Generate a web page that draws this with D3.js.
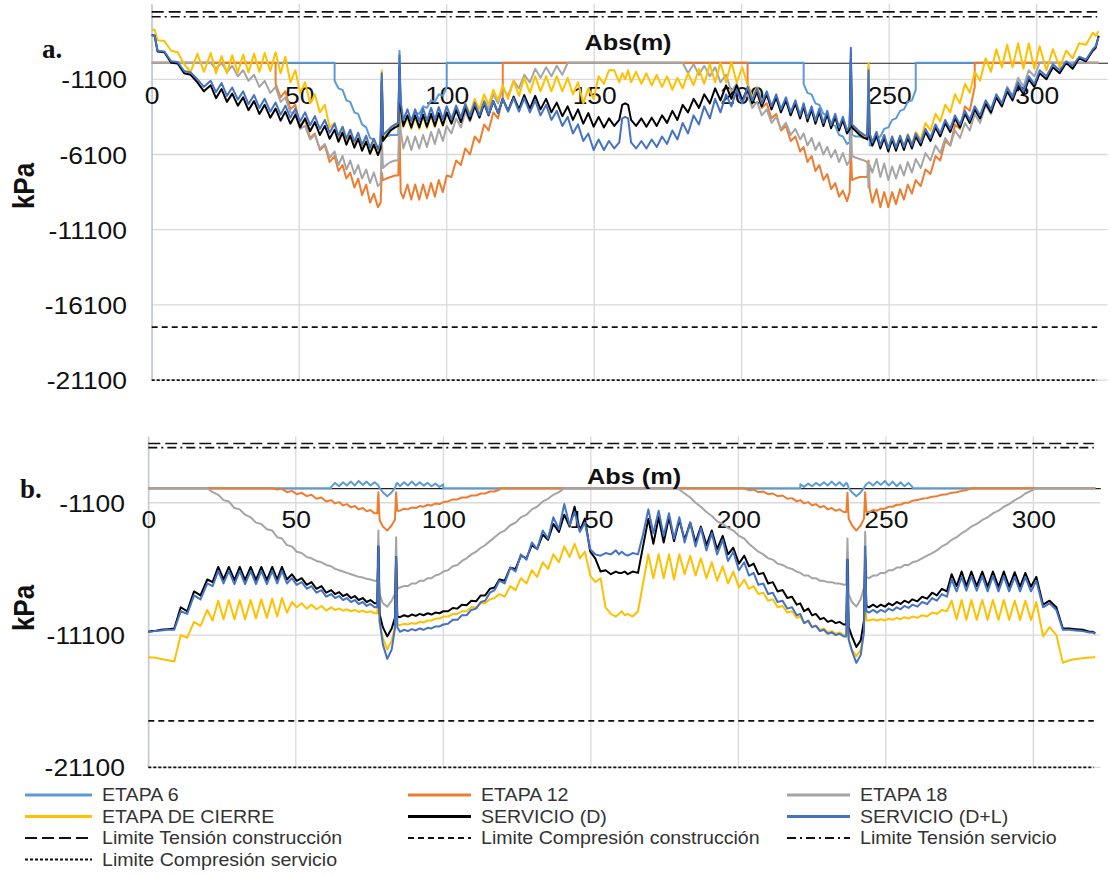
<!DOCTYPE html>
<html>
<head>
<meta charset="utf-8">
<script src="https://cdn.jsdelivr.net/npm/d3@7"></script>
<style>
  body { margin: 0; background: #fff; }
  svg { display: block; }
</style>
</head>
<body>
<svg id="chart" width="1110" height="876"></svg>
<script>
// Abscissa of every computed section along the deck (m)
const abs = [
  0,1,2,4.3,6.6,8.8,11,13.2,15.5,17.7,20,
  21.8,23.7,25.5,27.3,29.2,31,32.8,34.7,36.5,38.3,40.2,42,
  42,43.7,45.3,47,48.7,50.3,52,53.7,55.3,57,58.7,60.3,62,
  62,63.3,64.7,66,67.3,68.7,70,71.3,72.7,74,75.3,76.7,
  77.6,78,78.4,79.5,81,82.5,83.6,84,84.4,
  85.3,86.7,88,89.3,90.7,92,93.3,94.7,96,97.3,98.7,100,
  100,101.6,103.2,104.8,106.3,107.9,109.5,111.1,112.7,114.2,115.8,117.4,119,
  119,120.8,122.7,124.5,126.3,128.2,130,131.8,133.7,135.5,137.3,139.2,141,
  142.8,144.5,146.3,148,149.8,151.5,153.3,155,156.8,158.5,159.5,
  160.5,
  161.5,162.5,164.2,166,167.7,169.5,171.2,173,174.7,176.5,178.2,
  180,181.8,183.7,185.5,187.3,189.2,191,192.8,194.7,196.5,198.3,200.2,202,
  202,203.6,205.2,206.8,208.5,210.1,211.7,213.3,215,216.6,218.2,219.8,221,
  221,222.3,223.7,225,226.3,227.7,229,230.3,231.7,233,234.3,235.7,
  236.6,237,237.4,238.5,240,241.5,242.6,243,243.4,
  244.3,245.7,247,248.3,249.7,251,252.3,253.7,255,256.3,257.7,259,
  259,260.7,262.3,264,265.7,267.3,269,270.7,272.3,274,275.7,277.3,279,
  279,280.8,282.7,284.5,286.3,288.2,290,291.8,293.7,295.5,297.3,299.2,
  301,303.3,305.5,307.8,310,312.2,314.4,316.7,319,320,321
];

// ---------- a. stresses (kPa) ----------
const aEtapa6 = [
  0,0,0,0,0,0,0,0,0,0,0,
  0,0,0,0,0,0,0,0,0,0,0,0,
  0,0,0,0,0,0,0,0,0,0,0,0,0,
  -1200,-1700,-1800,-2500,-2600,-3300,-3400,-4100,-4300,-5000,-5100,-5700,
  -5500,-700,-5000,-4900,-4800,-4800,-4800,800,-3800,
  -4100,-3700,-3800,-3300,-3400,-2900,-3000,-2500,-2600,-2100,-2200,-1600,
  0,0,0,0,0,0,0,0,0,0,0,0,0,
  0,0,0,0,0,0,0,0,0,0,0,0,0,
  0,0,0,0,0,0,0,0,0,0,0,
  0,
  0,0,0,0,0,0,0,0,0,0,0,
  0,0,0,0,0,0,0,0,0,0,0,0,0,
  0,0,0,0,0,0,0,0,0,0,0,0,0,
  -1400,-2000,-2100,-2700,-2800,-3400,-3500,-4100,-4200,-4800,-4900,-5400,
  -5300,700,-4800,-4900,-4900,-5000,-5000,-300,-5500,
  -5500,-5000,-4900,-4400,-4300,-3800,-3700,-3200,-3100,-2600,-2500,-1800,
  0,0,0,0,0,0,0,0,0,0,0,0,0,
  0,0,0,0,0,0,0,0,0,0,0,0,
  0,0,0,0,0,0,0,0,0,0,0
];
const aEtapa12 = [
  0,0,0,0,0,0,0,0,0,0,0,
  0,0,0,0,0,0,0,0,0,0,0,0,
  -1400,-2300,-1900,-3100,-2800,-4200,-3800,-5000,-4700,-5800,-5500,-6600,-6200,
  -6200,-7200,-6800,-7700,-7300,-8300,-7700,-8800,-8100,-9300,-8700,-9600,
  -9300,-7300,-7800,-7700,-7600,-7500,-7500,-4000,-8600,
  -9000,-8100,-9100,-8100,-9100,-8100,-9000,-8000,-8900,-7800,-8600,-7500,
  -7500,-7600,-6500,-6800,-5700,-6100,-4900,-5300,-4100,-4500,-3300,-3700,-2300,
  0,0,0,0,0,0,0,0,0,0,0,0,0,
  0,0,0,0,0,0,0,0,0,0,0,
  0,
  0,0,0,0,0,0,0,0,0,0,0,
  0,0,0,0,0,0,0,0,0,0,0,0,0,
  -1400,-2300,-2000,-3000,-2700,-3700,-3400,-4500,-4200,-5200,-4900,-5900,-5600,
  -5600,-6600,-6200,-7200,-6800,-7800,-7400,-8400,-8000,-8900,-8500,-9200,
  -8600,-5600,-7800,-7700,-7600,-7600,-7600,-6500,-8400,
  -9300,-8400,-9600,-8600,-9600,-8600,-9400,-8400,-9100,-8100,-8700,-7800,
  -7800,-8200,-7100,-7400,-6200,-6500,-5200,-5500,-4100,-4400,-2900,-3200,-1600,
  0,0,0,0,0,0,0,0,0,0,0,0,
  0,0,0,0,0,0,0,0,0,0,0
];
const aEtapa18 = [
  0,0,0,0,0,0,0,0,0,0,0,
  -400,0,-600,-200,-900,-500,-1200,-800,-1600,-1200,-2000,-1600,
  -1600,-2600,-2300,-3300,-3300,-4400,-4200,-5100,-4800,-5700,-5400,-6300,-5900,
  -5900,-6800,-6200,-7100,-6500,-7400,-6800,-7700,-7100,-8000,-7300,-8200,
  -8000,-5000,-7000,-6800,-6600,-6500,-6500,-2700,-4500,
  -5700,-4900,-5800,-4900,-5700,-4800,-5600,-4600,-5400,-4400,-5200,-4200,
  -4200,-4700,-3700,-4300,-3300,-3900,-2900,-3500,-2500,-3100,-2100,-2700,-1700,
  -1700,-2200,-1200,-1700,-800,-1300,-400,-1000,-300,-900,-200,-800,0,
  0,0,0,0,0,0,0,0,0,0,0,
  0,
  0,0,0,0,0,0,0,0,0,0,0,
  0,-700,-100,-800,-200,-900,-300,-1300,-800,-1900,-1400,-2500,-2100,
  -2100,-3000,-2600,-3500,-3100,-4000,-3600,-4400,-4000,-4800,-4400,-5100,-4700,
  -4700,-5500,-5000,-5800,-5300,-6100,-5600,-6300,-5800,-6600,-6000,-6800,
  -6500,-3800,-6200,-6300,-6400,-6500,-6600,-8300,-6800,
  -7300,-6400,-7600,-6700,-7800,-6900,-7700,-6800,-7500,-6600,-7300,-6400,
  -6400,-7000,-6000,-6500,-5500,-6000,-5000,-5500,-4500,-5000,-4000,-4500,-3400,
  -3400,-4000,-2800,-3400,-2200,-2800,-1600,-2200,-1000,-1600,-500,-900,
  0,0,0,0,0,0,0,0,0,0,0
];
const aCierre = [
  2200,2200,1500,1450,800,700,-100,-600,600,-600,650,
  -700,450,-700,500,-650,550,-650,600,-600,650,-550,700,
  700,-700,400,-1300,-500,-2000,-1300,-2700,-2100,-3300,-2800,-4300,-4000,
  -4000,-5100,-4500,-5300,-4700,-5500,-4900,-5700,-5100,-5900,-5300,-6000,
  -5600,-500,-5100,-4800,-4400,-4200,-4100,-2000,-3100,
  -4300,-3600,-4400,-3600,-4400,-3550,-4350,-3500,-4300,-3400,-4200,-3300,
  -3300,-4000,-3000,-3700,-2700,-3400,-2400,-3100,-2100,-2800,-1800,-2500,-1500,
  -1500,-2400,-1200,-2200,-1000,-2000,-900,-1900,-900,-1900,-900,-1900,-1000,
  -2100,-1300,-2700,-1700,-2400,-900,-1400,-500,-500,-1300,-700,
  -1100,
  -500,-1300,-600,-1400,-700,-1500,-800,-1600,-900,-1800,-1000,
  -1700,-700,-1500,-400,-1400,-100,-1300,0,-1300,50,-1300,-300,-1500,
  -1500,-2300,-1600,-2600,-2000,-2900,-2300,-3200,-2500,-3400,-2700,-3600,-2900,
  -2900,-3800,-3100,-3950,-3250,-4100,-3400,-4300,-3600,-4450,-3800,-4600,
  -4300,-1000,-4300,-4400,-4700,-4900,-5000,0,-4700,
  -5300,-4600,-5500,-4800,-5700,-4900,-5650,-4850,-5550,-4750,-5400,-4600,
  -4600,-5100,-4000,-4500,-3400,-3900,-2800,-3300,-2100,-2700,-1400,-2000,-600,
  -600,-1200,300,-600,900,-300,1200,-300,1300,-400,1300,-400,
  1100,-500,900,-300,800,300,1300,1200,2000,1800,2100
];
const aServD = [
  1850,1800,750,700,0,-50,-700,-800,-1300,-1900,-1500,
  -2350,-1750,-2600,-2050,-2850,-2300,-3150,-2550,-3400,-2800,-3650,-3050,
  -3050,-3850,-3250,-4050,-3450,-4300,-3700,-4550,-3950,-4800,-4200,-5050,-4450,
  -4450,-5250,-4650,-5450,-4850,-5650,-5050,-5850,-5250,-6050,-5450,-6150,
  -5700,-1200,-5200,-4900,-4500,-4300,-4200,-300,-3000,
  -4200,-3500,-4300,-3500,-4300,-3450,-4250,-3400,-4200,-3350,-4150,-3300,
  -3300,-4050,-3150,-3950,-3000,-3800,-2850,-3650,-2700,-3500,-2550,-3350,-2400,
  -2400,-3200,-2250,-3100,-2150,-3050,-2200,-3100,-2400,-3300,-2650,-3550,-2900,
  -3800,-3100,-4050,-3350,-4250,-3600,-4300,-3700,-4200,-3800,-2800,
  -2700,
  -2800,-3800,-4200,-3700,-4250,-3650,-4200,-3500,-4000,-3200,-3800,
  -2800,-3300,-2400,-3000,-2100,-2700,-1700,-2500,-1500,-2400,-1500,-2500,-1700,
  -1700,-2700,-1900,-2900,-2100,-3100,-2300,-3300,-2500,-3500,-2700,-3700,-2900,
  -2900,-3900,-3100,-4050,-3250,-4200,-3400,-4350,-3600,-4500,-3800,-4700,
  -4400,200,-4300,-4500,-4800,-5000,-5100,-2500,-4900,
  -5500,-4800,-5700,-5000,-5900,-5100,-5850,-5050,-5800,-5000,-5700,-4900,
  -4900,-5500,-4600,-5200,-4300,-4900,-4000,-4600,-3700,-4300,-3400,-4000,-3100,
  -3100,-3700,-2700,-3300,-2300,-2900,-1900,-2500,-1500,-2100,-1100,-1600,
  -700,-1100,-300,-700,0,-400,300,100,800,1000,1800
];
const aServDL = [
  1850,1800,800,750,100,50,-550,-650,-1100,-1600,-1200,
  -1950,-1350,-2200,-1650,-2450,-1900,-2750,-2150,-3000,-2400,-3250,-2650,
  -2650,-3450,-2850,-3650,-3050,-3900,-3300,-4150,-3550,-4400,-3800,-4650,-4050,
  -4050,-4850,-4250,-5050,-4450,-5250,-4650,-5450,-4850,-5650,-5050,-5750,
  -5300,-700,-4800,-4600,-4300,-4100,-4000,500,-2600,
  -3800,-3100,-3900,-3100,-3900,-3050,-3850,-3000,-3800,-2950,-3750,-2900,
  -2900,-3750,-2850,-3650,-2750,-3550,-2650,-3500,-2600,-3450,-2550,-3350,-2400,
  -2400,-3250,-2350,-3250,-2350,-3300,-2500,-3500,-2800,-3800,-3200,-4200,-3600,
  -4700,-4100,-5200,-4700,-5800,-5100,-5800,-5200,-5700,-5300,-3700,
  -3600,
  -3700,-5300,-5700,-5200,-5700,-5100,-5600,-4900,-5400,-4500,-5100,
  -4000,-4700,-3500,-4100,-2900,-3700,-2400,-3300,-2100,-2900,-1800,-2700,-1600,
  -1600,-2500,-1700,-2700,-1900,-2900,-2100,-3100,-2300,-3300,-2500,-3500,-2700,
  -2700,-3700,-2900,-3850,-3050,-4000,-3200,-4150,-3400,-4300,-3600,-4500,
  -4200,1000,-4100,-4300,-4600,-4800,-4900,-500,-4700,
  -5300,-4600,-5500,-4800,-5700,-4900,-5650,-4850,-5600,-4800,-5500,-4700,
  -4700,-5300,-4400,-5000,-4100,-4700,-3800,-4400,-3500,-4100,-3200,-3800,-2900,
  -2900,-3500,-2500,-3100,-2100,-2700,-1700,-2300,-1300,-1900,-900,-1400,
  -500,-900,-100,-500,100,-200,400,200,900,1100,1700
];

// ---------- b. stresses (kPa) ----------
const bEtapa6 = [
  0,0,0,0,0,0,0,0,0,0,0,
  0,0,0,0,0,0,0,0,0,0,0,0,
  0,0,0,0,0,0,0,0,0,0,0,0,0,
  100,400,150,450,200,500,200,550,250,500,200,450,
  300,200,0,-300,-600,-300,0,300,400,
  150,450,200,500,200,450,200,400,150,350,100,300,
  0,0,0,0,0,0,0,0,0,0,0,0,0,
  0,0,0,0,0,0,0,0,0,0,0,0,0,
  0,0,0,0,0,0,0,0,0,0,0,
  0,
  0,0,0,0,0,0,0,0,0,0,0,
  0,0,0,0,0,0,0,0,0,0,0,0,0,
  0,0,0,0,0,0,0,0,0,0,0,0,0,
  300,100,350,150,400,200,450,200,500,200,450,150,
  400,300,0,-300,-600,-300,0,200,300,
  450,200,500,250,550,200,500,150,450,150,400,100,
  0,0,0,0,0,0,0,0,0,0,0,0,0,
  0,0,0,0,0,0,0,0,0,0,0,0,
  0,0,0,0,0,0,0,0,0,0,0
];
const bEtapa12 = [
  0,0,0,0,0,0,0,0,0,0,0,
  0,0,0,0,0,0,0,0,0,0,0,0,
  0,-100,-50,-300,-200,-450,-350,-600,-500,-800,-700,-1000,-900,
  -900,-1150,-1050,-1300,-1200,-1450,-1350,-1600,-1500,-1750,-1650,-1900,
  -1900,-300,-2400,-2900,-3200,-2800,-2400,-300,-1700,
  -1700,-1550,-1600,-1450,-1500,-1350,-1400,-1250,-1300,-1150,-1200,-1050,
  -1050,-1000,-850,-850,-700,-700,-550,-550,-400,-400,-250,-250,-100,
  0,0,0,0,0,0,0,0,0,0,0,0,0,
  0,0,0,0,0,0,0,0,0,0,0,
  0,
  0,0,0,0,0,0,0,0,0,0,0,
  0,0,0,0,0,0,0,0,0,0,0,0,0,
  0,-150,-100,-300,-250,-450,-400,-600,-550,-800,-750,-1000,-900,
  -900,-1150,-1050,-1300,-1200,-1450,-1350,-1600,-1500,-1700,-1600,-1800,
  -1800,-350,-2300,-2800,-3200,-2800,-2300,-300,-1800,
  -1800,-1650,-1700,-1550,-1550,-1400,-1400,-1250,-1250,-1100,-1100,-950,
  -950,-900,-800,-750,-650,-600,-500,-450,-350,-300,-200,-150,0,
  0,0,0,0,0,0,0,0,0,0,0,0,
  0,0,0,0,0,0,0,0,0,0,0
];
const bEtapa18 = [
  0,0,0,0,0,0,0,0,0,0,0,
  -300,-500,-900,-1000,-1500,-1600,-2000,-2200,-2600,-2700,-3100,-3200,
  -3200,-3700,-3800,-4300,-4400,-4800,-4900,-5200,-5300,-5500,-5600,-5800,-5900,
  -5900,-6100,-6200,-6300,-6400,-6500,-6600,-6700,-6750,-6850,-6900,-7000,
  -7000,-3200,-8000,-8700,-8950,-8500,-8000,-3700,-7600,
  -7500,-7400,-7400,-7200,-7200,-7000,-7000,-6800,-6800,-6600,-6500,-6300,
  -6300,-6200,-5900,-5800,-5500,-5300,-5000,-4800,-4500,-4300,-4000,-3700,-3400,
  -3400,-3200,-2800,-2600,-2200,-2000,-1600,-1400,-1000,-800,-500,-300,0,
  0,0,0,0,0,0,0,0,0,0,0,
  0,
  0,0,0,0,0,0,0,0,0,0,0,
  -100,-400,-700,-1100,-1400,-1800,-2100,-2500,-2700,-3000,-3200,-3600,-3800,
  -3800,-4200,-4500,-4800,-5000,-5300,-5400,-5700,-5800,-6000,-6100,-6300,-6400,
  -6400,-6600,-6600,-6800,-6800,-7000,-7000,-7100,-7100,-7200,-7200,-7300,
  -7300,-3800,-8000,-8600,-8950,-8400,-7500,-3300,-6700,
  -6800,-6600,-6600,-6400,-6400,-6200,-6200,-6000,-6000,-5800,-5800,-5600,
  -5600,-5500,-5300,-5100,-4900,-4700,-4400,-4200,-3900,-3700,-3400,-3200,-2900,
  -2900,-2700,-2400,-2200,-1900,-1700,-1400,-1200,-900,-700,-400,-200,
  0,0,0,0,0,0,0,0,0,0,0
];
const bCierre = [
  -12750,-12800,-12800,-12900,-13000,-13100,-11100,-11300,-10100,-10400,-9200,
  -10000,-8500,-9900,-8450,-9900,-8450,-9900,-8450,-9850,-8400,-9800,-8350,
  -8350,-9700,-8300,-9400,-8600,-9000,-8700,-9100,-8800,-9150,-8900,-9250,-9000,
  -9000,-9200,-9100,-9250,-9150,-9300,-9200,-9350,-9250,-9400,-9300,-9450,
  -9450,-5500,-10200,-11300,-12200,-11500,-10500,-6000,-10300,
  -10350,-10250,-10300,-10200,-10250,-10100,-10150,-10000,-10000,-9850,-9850,-9700,
  -9700,-9700,-9500,-9500,-9300,-9300,-9000,-9000,-8700,-8700,-8400,-8300,-8000,
  -8000,-8200,-7400,-7700,-6800,-7200,-6200,-6700,-5600,-6100,-5000,-5600,-4400,
  -5200,-4200,-5300,-4800,-6600,-7100,-6800,-9000,-9500,-9700,-9500,
  -9300,
  -9600,-9500,-9700,-9300,-7200,-5000,-6800,-5000,-6800,-5000,-6900,
  -5000,-6500,-5100,-6600,-5300,-6800,-5600,-7000,-5900,-7200,-6300,-7500,-6900,
  -6900,-7600,-7400,-8000,-7900,-8500,-8400,-9000,-8900,-9400,-9300,-9800,-9700,
  -9700,-10200,-10100,-10500,-10400,-10700,-10600,-10900,-10800,-11000,-10900,-11100,
  -11100,-7000,-11500,-12200,-12700,-12200,-11000,-6000,-10000,
  -10000,-9900,-10000,-9900,-10000,-9850,-9950,-9800,-9900,-9750,-9850,-9700,
  -9700,-9800,-9600,-9700,-9400,-9500,-9200,-9300,-8500,-9900,-8450,-9950,-8450,
  -8450,-9950,-8450,-9950,-8450,-9950,-8450,-9950,-8500,-9950,-8500,-9950,
  -8600,-11200,-10500,-11100,-13200,-13000,-12900,-12850,-12800,-12800,-12750
];
const bServD = [
  -10850,-10800,-10800,-10700,-10650,-10600,-9000,-9300,-7800,-8100,-6900,
  -7100,-5950,-6900,-5950,-6950,-5950,-6950,-5950,-6950,-5950,-6950,-5950,
  -5950,-6900,-5950,-6900,-6500,-7000,-6800,-7300,-7100,-7600,-7400,-7900,-7700,
  -7700,-8000,-7850,-8150,-8000,-8300,-8150,-8450,-8300,-8600,-8450,-8700,
  -8700,-4400,-9500,-10500,-11200,-10600,-9800,-5200,-9700,
  -9750,-9600,-9700,-9550,-9650,-9500,-9600,-9450,-9550,-9400,-9450,-9300,
  -9300,-9300,-9050,-9100,-8800,-8850,-8500,-8550,-8100,-8100,-7600,-7500,-6900,
  -6900,-7000,-6000,-6100,-5100,-5300,-4300,-4600,-3500,-3900,-2700,-3300,-2000,
  -2900,-1400,-3200,-2300,-4800,-5300,-6300,-6200,-6500,-6300,-6400,
  -6400,
  -6300,-6500,-6300,-6400,-4400,-2300,-4200,-2200,-4100,-2200,-4000,
  -2400,-3900,-2600,-4100,-2900,-4300,-3200,-4600,-3600,-5000,-4500,-5700,-5100,
  -5100,-5900,-5700,-6500,-6400,-7200,-7100,-7800,-7700,-8300,-8200,-8800,-8700,
  -8700,-9300,-9100,-9600,-9500,-9900,-9800,-10100,-10000,-10200,-10100,-10300,
  -10300,-5400,-10500,-11200,-12000,-11500,-10000,-5200,-8900,
  -9000,-8800,-9000,-8800,-8950,-8700,-8850,-8600,-8750,-8500,-8650,-8400,
  -8400,-8550,-8200,-8350,-7900,-8100,-7600,-7800,-6500,-7400,-6300,-7400,-6300,
  -6300,-7400,-6300,-7450,-6300,-7450,-6300,-7450,-6350,-7450,-6400,-7450,
  -6700,-8800,-8500,-9000,-10600,-10600,-10650,-10700,-10850,-10850,-10950
];
const bServDL = [
  -10850,-10850,-10800,-10750,-10700,-10700,-9300,-9500,-8100,-8400,-7200,
  -7400,-6250,-7200,-6250,-7250,-6250,-7250,-6250,-7250,-6250,-7250,-6250,
  -6250,-7200,-6250,-7200,-6800,-7300,-7100,-7600,-7400,-7900,-7700,-8200,-8000,
  -8000,-8300,-8150,-8450,-8300,-8600,-8450,-8750,-8600,-8900,-8750,-9000,
  -9000,-4400,-10000,-11800,-12900,-12200,-10600,-5200,-10500,
  -10850,-10700,-10800,-10650,-10750,-10600,-10700,-10550,-10600,-10450,-10450,-10300,
  -10300,-10250,-9950,-9950,-9600,-9600,-9200,-9100,-8600,-8500,-7900,-7700,-7000,
  -7000,-7200,-6000,-6300,-5000,-5400,-4100,-4600,-3200,-3800,-2200,-3100,-1200,
  -2800,-1800,-3300,-2600,-4600,-5000,-5100,-4900,-5000,-4700,-5000,
  -4800,
  -5000,-5100,-4900,-5000,-3500,-1600,-3400,-1700,-3600,-1900,-3800,
  -2200,-4100,-2600,-4400,-3000,-4700,-3400,-5000,-3900,-5500,-4800,-6200,-5600,
  -5600,-6600,-6400,-7300,-7200,-8000,-7900,-8600,-8500,-9100,-9000,-9600,-9500,
  -9500,-10200,-10000,-10500,-10400,-10800,-10700,-11000,-10900,-11100,-11000,-11200,
  -11200,-5400,-11400,-12300,-13200,-12600,-10800,-4400,-9300,
  -9400,-9200,-9400,-9200,-9350,-9100,-9250,-9000,-9150,-8900,-9050,-8800,
  -8800,-8950,-8600,-8750,-8300,-8500,-8000,-8200,-6900,-7800,-6700,-7750,-6650,
  -6650,-7750,-6650,-7800,-6650,-7800,-6650,-7800,-6700,-7800,-6700,-7800,
  -7000,-9000,-8700,-9200,-10700,-10700,-10750,-10800,-10900,-10900,-11000
];

// Series names, colours and allowable stress limits
const seriesNames = ["ETAPA 6", "ETAPA 12", "ETAPA 18", "ETAPA DE CIERRE", "SERVICIO (D)", "SERVICIO (D+L)"];
const seriesColors = ["#5B9BD5", "#ED7D31", "#A5A5A5", "#FFC000", "#000000", "#4472C4"];
const limitNames = ["Limite Tensión construcción", "Limite Compresión construcción", "Limite Tensión servicio", "Limite Compresión servicio"];
const limitValues = [3380, -17580, 3060, -21100];
const limitDash = ["12,5", "6,4", "9,4,2,4", "3,2"];
const limitAbs = [0, 320.5];
const xTicks = [0, 50, 100, 150, 200, 250, 300];
const yTicksA = [-1100, -6100, -11100, -16100, -21100];
const yTicksB = [-1100, -11100, -21100];

const FONT = "'Liberation Sans', Arial, Helvetica, sans-serif";
const plainNumber = d => String(d);
const svg = d3.select("#chart");

const panels = [
  { series: [aEtapa6, aEtapa12, aEtapa18, aCierre, aServD, aServDL], yTicks: yTicksA,
    left: 151.7, right: 1107.5, xMax: 324, top: 4.1, bottom: 380.1,
    tag: "a.", tagX: 42, tagY: 58, title: "Abs(m)", titleX: 628, titleY: 50,
    unitY: 186, yPad: 21.5, xPad: 24.7 },
  { series: [bEtapa6, bEtapa12, bEtapa18, bCierre, bServD, bServDL], yTicks: yTicksB,
    left: 148.3, right: 1100.3, xMax: 322.7, top: 436.6, bottom: 767.4,
    tag: "b.", tagX: 20, tagY: 498, title: "Abs (m)", titleX: 634, titleY: 484,
    unitY: 608, yPad: 20.3, xPad: 23.5 }
];

panels.forEach(p => {
  p.series.forEach((s, i) => {
    if (s.length !== abs.length) throw new Error(p.tag + " " + seriesNames[i] + " has " + s.length + " values");
  });

  const x = d3.scaleLinear().domain([0, p.xMax]).range([p.left, p.right]);
  const y = d3.scaleLinear().domain([-21100, 3900]).range([p.bottom, p.top]);
  const g = svg.append("g");

  // gridlines
  g.append("g").selectAll("line").data(xTicks).join("line")
    .attr("x1", d => x(d)).attr("x2", d => x(d))
    .attr("y1", p.top).attr("y2", p.bottom)
    .attr("stroke", "#d9d9d9").attr("stroke-width", 1.3);
  g.append("g").selectAll("line").data(p.yTicks).join("line")
    .attr("x1", p.left).attr("x2", p.right)
    .attr("y1", d => y(d)).attr("y2", d => y(d))
    .attr("stroke", "#d9d9d9").attr("stroke-width", 1.3);

  // value axis
  const gy = g.append("g").attr("transform", `translate(${p.left},0)`)
    .call(d3.axisLeft(y).tickValues(p.yTicks).tickSize(0).tickSizeOuter(0)
      .tickPadding(p.yPad).tickFormat(plainNumber));
  gy.select(".domain").attr("stroke", "#bfc6d4").attr("stroke-width", 1.3);
  gy.selectAll("text").attr("font-family", FONT).attr("font-size", 23)
    .attr("fill", "#111").attr("dy", "0.37em").attr("transform", "scale(1.15,1)");

  // abscissa axis through zero
  const gx = g.append("g").attr("transform", `translate(0,${y(0)})`)
    .call(d3.axisBottom(x).tickValues(xTicks).tickSize(0).tickSizeOuter(0)
      .tickPadding(p.xPad).tickFormat(plainNumber));
  gx.select(".domain").attr("stroke", "#222").attr("stroke-width", 1.2);
  gx.selectAll("text").attr("font-family", FONT).attr("font-size", 23)
    .attr("fill", "#111").attr("transform", "scale(1.15,1)");

  // stress series
  const line = d3.line().x((d, i) => x(abs[i])).y(d => y(d));
  p.series.forEach((s, i) => {
    g.append("path").datum(s).attr("d", line)
      .attr("fill", "none").attr("stroke", seriesColors[i])
      .attr("stroke-width", 2).attr("stroke-linejoin", "round");
  });

  // stress limits
  const limLine = d3.line().x(d => x(d[0])).y(d => y(d[1]));
  limitValues.forEach((v, i) => {
    g.append("path").datum(limitAbs.map(a => [a, v])).attr("d", limLine)
      .attr("fill", "none").attr("stroke", "#111").attr("stroke-width", 1.7)
      .attr("stroke-dasharray", limitDash[i]);
  });

  // titles
  g.append("text").attr("transform", `translate(${p.titleX},${p.titleY}) scale(1.15,1)`)
    .attr("text-anchor", "middle").attr("font-family", FONT).attr("font-weight", "bold")
    .attr("font-size", 22).attr("fill", "#111").text(p.title);
  g.append("text").attr("transform", `translate(34,${p.unitY}) scale(1.15,1) rotate(-90)`)
    .attr("text-anchor", "middle").attr("font-family", FONT).attr("font-weight", "bold")
    .attr("font-size", 26).attr("fill", "#111").text("kPa");
  g.append("text").attr("x", p.tagX).attr("y", p.tagY)
    .attr("font-family", "'Liberation Serif', 'Times New Roman', serif").attr("font-weight", "bold")
    .attr("font-size", 27).attr("fill", "#111").text(p.tag);
});

// legend
const legendItems = [
  ...seriesNames.map((n, i) => ({ name: n, color: seriesColors[i], dash: null })),
  ...limitNames.map((n, i) => ({ name: n, color: "#111", dash: limitDash[i] }))
];
const colLine = [25, 408, 787];
const colText = [102, 481, 860];
const rowY = [795, 816.5, 838, 859.5];
const lg = svg.append("g");
legendItems.forEach((it, k) => {
  const c = k % 3, r = Math.floor(k / 3);
  const lineEnd = c === 0 ? 92 : colLine[c] + 63;
  lg.append("line").attr("x1", colLine[c]).attr("x2", lineEnd)
    .attr("y1", rowY[r]).attr("y2", rowY[r])
    .attr("stroke", it.color).attr("stroke-width", it.dash ? 2 : 3)
    .attr("stroke-dasharray", it.dash);
  lg.append("text").attr("transform", `translate(${colText[c]},${rowY[r] + 6.3}) scale(1.12,1)`)
    .attr("font-family", FONT).attr("font-size", 17.5).attr("fill", "#333").text(it.name);
});
</script>
</body>
</html>
